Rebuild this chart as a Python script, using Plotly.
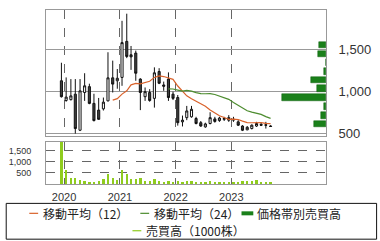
import plotly.graph_objects as go
import pandas as pd

months = ["2019-12", "2020-01", "2020-02", "2020-03", "2020-04", "2020-05", "2020-06",
          "2020-07", "2020-08", "2020-09", "2020-10", "2020-11", "2020-12",
          "2021-01", "2021-02", "2021-03", "2021-04", "2021-05", "2021-06",
          "2021-07", "2021-08", "2021-09", "2021-10", "2021-11", "2021-12",
          "2022-01", "2022-02", "2022-03", "2022-04", "2022-05", "2022-06",
          "2022-07", "2022-08", "2022-09", "2022-10", "2022-11", "2022-12",
          "2023-01", "2023-02", "2023-03", "2023-04", "2023-05", "2023-06",
          "2023-07", "2023-08", "2023-09"]
opens = [1130, 895, 905, 970, 540, 990, 1060, 860, 780, 795, 890, 1165, 1130,
         1170, 1600, 1440, 1460, 1150, 940, 990, 920, 1240, 1080, 1150, 970,
         930, 640, 690, 700, 680, 630, 580, 620, 675, 655, 670, 690,
         660, 640, 590, 545, 560, 590, 610, 605, 590]
highs = [1345, 1170, 1150, 1150, 1150, 1220, 1095, 975, 925, 930, 1470, 1370, 1270,
         1845, 1930, 1545, 1490, 1160, 1050, 1030, 1290, 1280, 1120, 1230, 1000,
         960, 715, 830, 830, 700, 650, 630, 755, 700, 700, 700, 720,
         700, 660, 600, 590, 610, 640, 630, 640, 600]
lows = [930, 880, 895, 500, 530, 890, 850, 645, 665, 775, 885, 990, 1035,
        1070, 1400, 1260, 1130, 780, 890, 880, 810, 1090, 1010, 890, 900,
        595, 585, 660, 690, 610, 580, 570, 610, 630, 640, 650, 640,
        640, 590, 530, 540, 550, 580, 590, 560, 585]
closes = [940, 935, 950, 560, 1010, 1070, 860, 655, 670, 875, 1165, 1090, 1160,
          1585, 1420, 1415, 1220, 990, 1000, 895, 1225, 1100, 1065, 930, 920,
          630, 660, 770, 790, 620, 590, 615, 690, 645, 685, 680, 660,
          670, 600, 540, 575, 600, 620, 600, 600, 585]
volumes = [1950, 645, 295, 295, 190, 145, 90, 90, 145, 220, 477, 295, 190,
           645, 477, 220, 220, 295, 145, 145, 220, 145, 90, 120, 100,
           140, 110, 120, 120, 100, 90, 110, 130, 90, 100, 90, 110,
           80, 100, 130, 120, 130, 170, 110, 90, 80]
band_prices = [616, 720, 825, 929, 1034, 1138, 1243, 1347, 1451, 1556]
band_volumes = [1230, 500, 230, 4430, 900, 1570, 230, 0, 830, 730]

price_ticks = [500, 1000, 1500]
price_tick_labels = ["500", "1,000", "1,500"]
vol_ticks = [500, 1000, 1500]
vol_tick_labels = ["500", "1,000", "1,500"]
year_ticks = ["2020-01-01", "2021-01-01", "2022-01-01", "2023-01-01"]
year_labels = ["2020", "2021", "2022", "2023"]

dates = pd.to_datetime([m + "-15" for m in months])
close_s = pd.Series(closes, index=dates)
ma12 = close_s.rolling(12).mean()
ma24 = close_s.rolling(24).mean()

FONT = "Noto Sans CJK JP"
NUMFONT = "Liberation Sans"
MA12_C = "#d9622b"
MA24_C = "#4d8c2f"
BAND_C = "#1a801a"
VOL_C = "#8fcc1e"

fig = go.Figure()
fig.add_trace(go.Candlestick(
    x=dates, open=opens, high=highs, low=lows, close=closes,
    increasing=dict(fillcolor="white", line=dict(color="#111", width=1)),
    decreasing=dict(fillcolor="#404040", line=dict(color="#111", width=1)),
    whiskerwidth=0, xaxis="x", yaxis="y", showlegend=False))
fig.add_trace(go.Scatter(x=dates, y=ma12, mode="lines",
                         line=dict(color=MA12_C, width=1.2),
                         xaxis="x", yaxis="y", showlegend=False))
fig.add_trace(go.Scatter(x=dates, y=ma24, mode="lines",
                         line=dict(color=MA24_C, width=1.2),
                         xaxis="x", yaxis="y", showlegend=False))
fig.add_trace(go.Bar(x=band_volumes, y=band_prices, orientation="h", width=80,
                     marker=dict(color=BAND_C, line=dict(color="#0f5f0f", width=0.5)),
                     xaxis="x3", yaxis="y", showlegend=False))
fig.add_trace(go.Bar(x=dates, y=volumes, width=15 * 24 * 3600 * 1000,
                     marker=dict(color=VOL_C, line=dict(width=0)),
                     xaxis="x2", yaxis="y2", showlegend=False))

xr = ["2019-09-05", "2024-09-12"]
grid_common = dict(showgrid=True, gridcolor="#666", griddash="dash", gridwidth=1,
                   tickvals=year_ticks, range=xr, type="date",
                   showline=True, linecolor="#999", linewidth=1, mirror=True,
                   zeroline=False)
fig.update_layout(
    width=380, height=241,
    margin=dict(l=42, r=53, t=9, b=57),
    paper_bgcolor="white", plot_bgcolor="white",
    showlegend=False, bargap=0,
    font=dict(family=FONT, size=11, color="#333"),
    xaxis=dict(domain=[0, 1], anchor="y", showticklabels=False,
               rangeslider=dict(visible=False), **grid_common),
    xaxis2=dict(domain=[0, 1], anchor="y2", ticktext=year_labels,
                tickfont=dict(family=NUMFONT, size=11, color="#333"), ticks="",
                ticklabelstandoff=3, **grid_common),
    xaxis3=dict(overlaying="x", range=[28500, 0], visible=False),
    yaxis=dict(domain=[0.2743, 1], anchor="x", side="right", range=[468, 1974],
               tickvals=price_ticks, ticktext=price_tick_labels,
               tickfont=dict(family=NUMFONT, size=13, color="#333"), ticklabelstandoff=9,
               showgrid=True, gridcolor="#999", gridwidth=1,
               showline=True, linecolor="#999", linewidth=1, mirror=True,
               zeroline=False),
    yaxis2=dict(domain=[0, 0.2417], anchor="x2", side="left", range=[0, 1910],
                tickvals=vol_ticks, ticktext=vol_tick_labels,
                tickfont=dict(family=NUMFONT, size=9, color="#333"), ticklabelstandoff=12,
                showgrid=True, gridcolor="#666", griddash="dash", gridwidth=1,
                showline=True, linecolor="#999", linewidth=1, mirror=True,
                zeroline=False),
)

# legend drawn as a framed box below the chart
def px_x(p):
    return (p - 42) / 285.0

def px_y(p):
    return (184 - p) / 175.0

fig.add_shape(type="rect", xref="paper", yref="paper",
              x0=px_x(1.5), x1=px_x(378.5), y0=px_y(203.5), y1=px_y(239.5),
              line=dict(color="#111", width=1), fillcolor="white", layer="above")

legend_items = [
    ("移動平均（12）", MA12_C, 25, 213.5, 1.2),
    ("移動平均（24）", MA24_C, 138, 213.5, 1.2),
    ("価格帯別売買高", BAND_C, 241, 213.5, 4),
    ("売買高（1000株）", VOL_C, 130, 231, 1.2),
]
for label, color, x0, yc, w in legend_items:
    fig.add_shape(type="line", xref="paper", yref="paper",
                  x0=px_x(x0), x1=px_x(x0 + 9 if w < 2 else x0 + 12),
                  y0=px_y(yc), y1=px_y(yc), line=dict(color=color, width=w))
    fig.add_annotation(text=label, xref="paper", yref="paper",
                       x=px_x(x0 + (12 if w < 2 else 14)), y=px_y(yc),
                       xanchor="left", yanchor="middle", showarrow=False,
                       font=dict(family=FONT, size=12, color="#222"))

fig.write_html("out.html")
